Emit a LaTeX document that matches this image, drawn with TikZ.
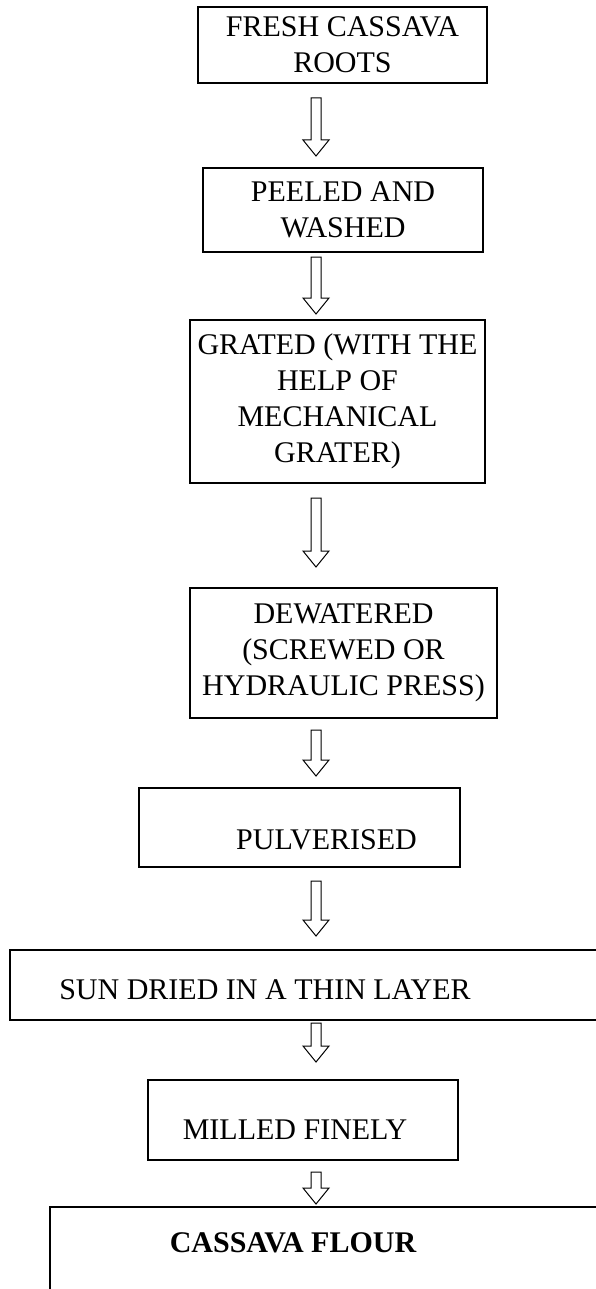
\documentclass[tikz,border=0pt]{standalone}
\usepackage{fontspec}
\setmainfont{Liberation Serif}
\usetikzlibrary{calc}
\tikzset{stepbox/.style = {draw, line width=2, inner sep=0, align=center, font=\fontsize{30}{36}\selectfont}}
\tikzset{steptext/.style = {inner sep=0, align=center, font=\fontsize{30}{36}\selectfont}}
\tikzset{flowarrow/.style = {draw, line width=1, fill=white, line join=miter}}
% hollow block arrow between two boxes: #3 gap below the upper box, #4 gap above the lower box
\newcommand{\flowdown}[4]{%
  \draw [flowarrow] let \p1 = (#1.south -| axis), \p2 = (#2.north -| axis) in
    (\x1-5pt, \y1-#3pt) -- (\x1+5pt, \y1-#3pt) -- (\x1+5pt, \y2+#4pt+16pt) -- (\x1+13pt, \y2+#4pt+16pt)
    -- (\x1, \y2+#4pt) -- (\x1-13pt, \y2+#4pt+16pt) -- (\x1-5pt, \y2+#4pt+16pt) -- cycle;
}

\begin{document}
\begin{tikzpicture}[x=1pt, y=1pt]
    \useasboundingbox (0, 0) rectangle (595, -1289);
    \coordinate (axis) at (316, 0);

    \node [stepbox, minimum width=289, minimum height=76] (roots) at (342.5, -45) {FRESH CASSAVA\\ROOTS};
    \node [stepbox, minimum width=280, minimum height=84] (peeled) at (343, -210) {PEELED AND\\WASHED};
    \node [stepbox, minimum width=295, minimum height=163] (grated) at (337.5, -401.5) {GRATED (WITH THE\\HELP OF\\MECHANICAL\\GRATER)};
    \node [stepbox, minimum width=307, minimum height=130] (dewater) at (343.5, -653) {DEWATERED\\(SCREWED OR\\HYDRAULIC PRESS)};
    \node [stepbox, minimum width=321, minimum height=79] (pulver) at (299.5, -827.5) {};
    \node [steptext] at ([xshift=27, yshift=-12] pulver.center) {PULVERISED};
    \node [stepbox, minimum width=610, minimum height=70] (sundry) at (315, -985) {};
    \node [steptext] at ([xshift=-50, yshift=-5] sundry.center) {SUN DRIED IN A THIN LAYER};
    \node [stepbox, minimum width=310, minimum height=80] (milled) at (303, -1120) {};
    \node [steptext] at ([xshift=-8, yshift=-10] milled.center) {MILLED FINELY};
    \node [stepbox, minimum width=590, minimum height=113] (flour) at (345, -1263.5) {};
    \node [steptext, font=\fontsize{30}{36}\selectfont\bfseries] at ([xshift=-52, yshift=21] flour.center) {CASSAVA FLOUR};

    \flowdown{roots}{peeled}{14}{11}
    \flowdown{peeled}{grated}{4}{5}
    \flowdown{grated}{dewater}{14}{20}
    \flowdown{dewater}{pulver}{11}{11}
    \flowdown{pulver}{sundry}{13}{13}
    \flowdown{sundry}{milled}{2}{17}
    \flowdown{milled}{flour}{11}{2}
\end{tikzpicture}
\end{document}
